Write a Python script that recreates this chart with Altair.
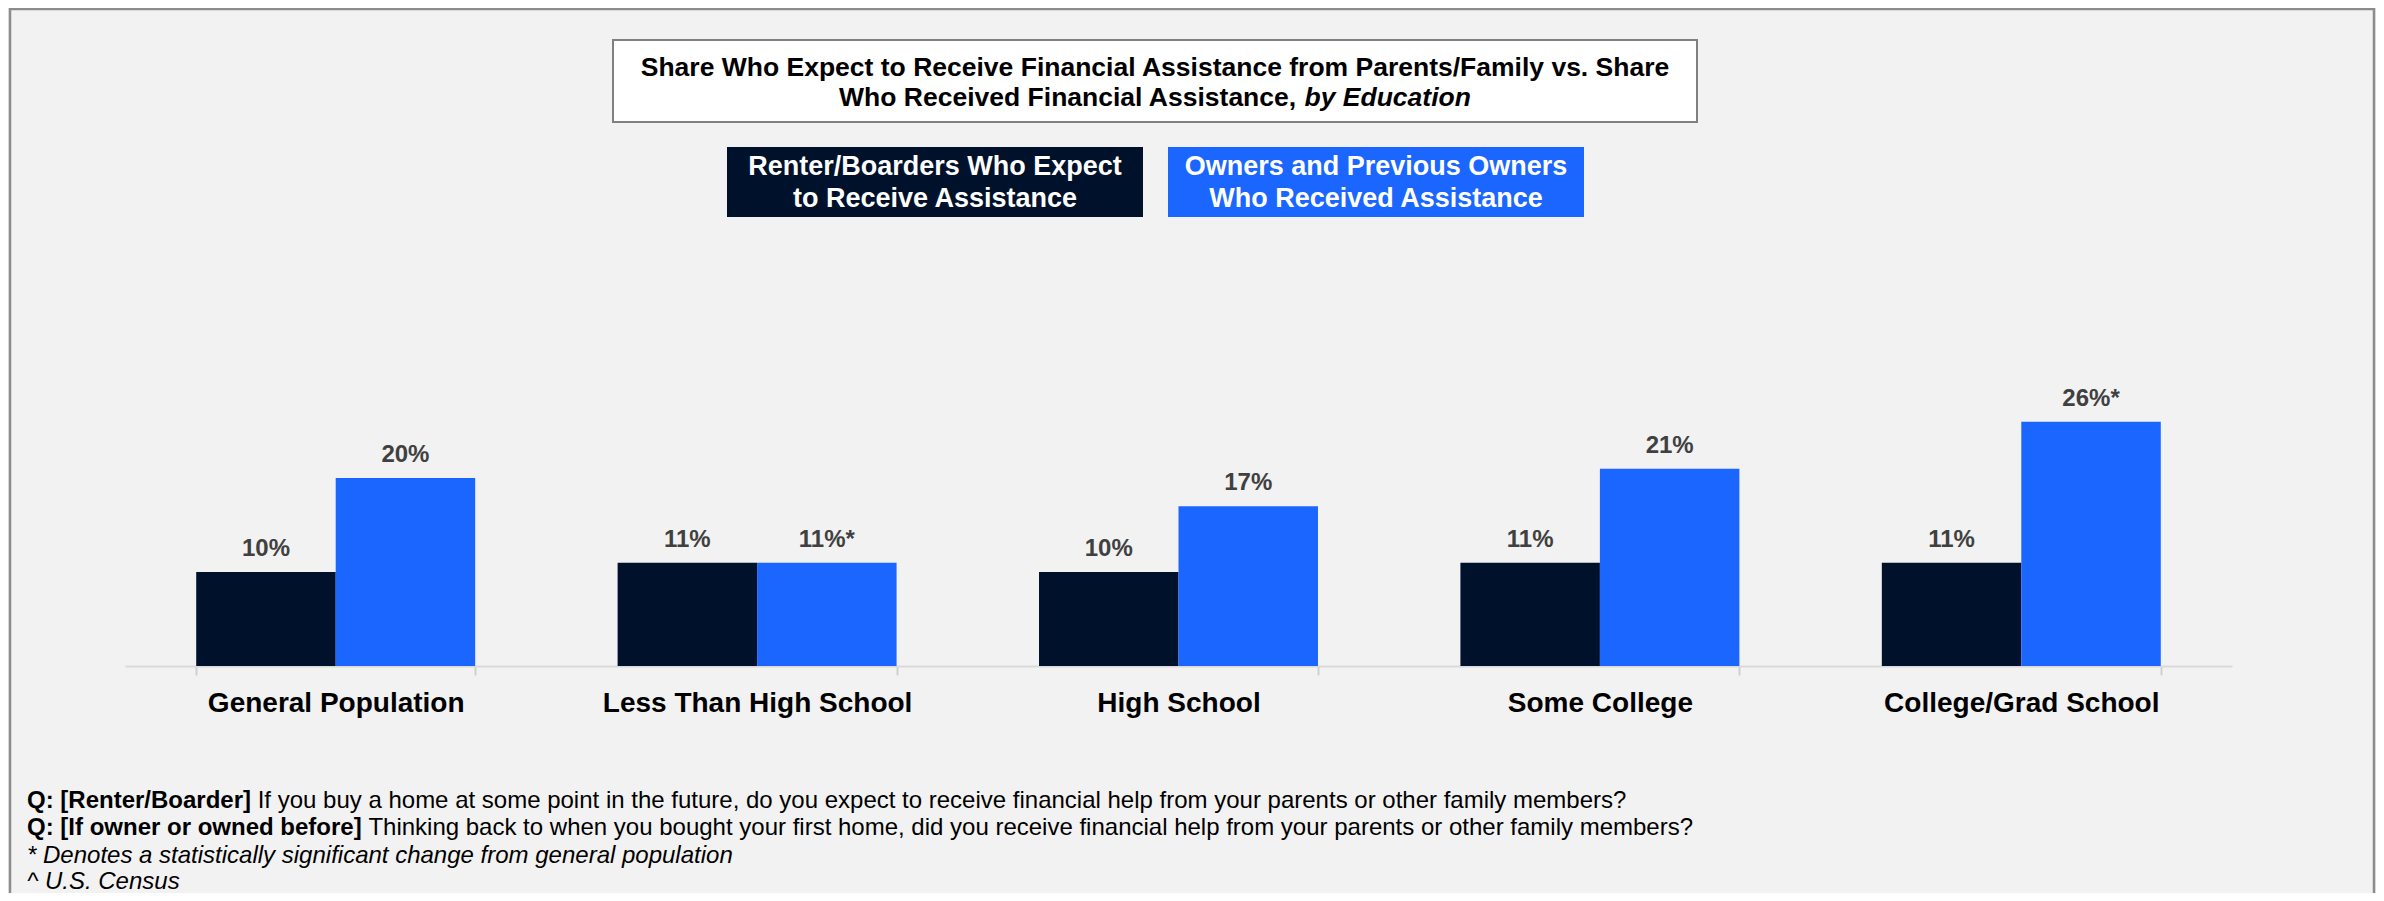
import altair as alt
import pandas as pd

# ---------------- data ----------------
categories = ["General Population", "Less Than High School", "High School",
              "Some College", "College/Grad School"]
series = ["Renter/Boarders Who Expect to Receive Assistance",
          "Owners and Previous Owners Who Received Assistance"]
renter_values = [10, 11, 10, 11, 11]
owner_values = [20, 11, 17, 21, 26]
renter_labels = ["10%", "11%", "10%", "11%", "11%"]
owner_labels = ["20%", "11%*", "17%", "21%", "26%*"]
series_colors = ["#00112B", "#1A66FF"]

title_line1 = "Share Who Expect to Receive Financial Assistance from Parents/Family vs. Share"
title_line2_plain = "Who Received Financial Assistance,"
title_line2_italic = "by Education"
legend_lines = [["Renter/Boarders Who Expect", "to Receive Assistance"],
                ["Owners and Previous Owners", "Who Received Assistance"]]
foot_bold = ["Q: [Renter/Boarder]", "Q: [If owner or owned before]"]
foot_plain = ["If you buy a home at some point in the future, do you expect to receive financial help from your parents or other family members?",
              "Thinking back to when you bought your first home, did you receive financial help from your parents or other family members?"]
foot_italic = ["* Denotes a statistically significant change from general population",
               "^ U.S. Census"]

FONT = "Liberation Sans"

# Arial / Liberation Sans bold advance widths (per 1000 em) for layout of mixed-style text
BOLD_W = {" ": 278, ",": 278, ".": 278, "/": 278, ":": 333, "[": 333, "]": 333,
          "A": 722, "B": 722, "E": 667, "F": 611, "I": 278, "Q": 778, "R": 722, "W": 944,
          "a": 556, "b": 611, "c": 556, "d": 611, "e": 556, "f": 333, "h": 611, "i": 278,
          "l": 278, "n": 611, "o": 611, "r": 389, "s": 556, "t": 333, "u": 611, "v": 556,
          "w": 778, "y": 556}


def bold_width(s, size):
    return sum(BOLD_W.get(ch, 556) for ch in s) * size / 1000.0


# ---------------- long table ----------------
rows = []
for i, c in enumerate(categories):
    rows.append({"category": c, "series": series[0], "value": renter_values[i], "label": renter_labels[i]})
    rows.append({"category": c, "series": series[1], "value": owner_values[i], "label": owner_labels[i]})
df = pd.DataFrame(rows)

W, H = 2107, 436
one = pd.DataFrame({"k": [0]})

x_enc = alt.X("category:N", sort=categories,
              scale=alt.Scale(paddingInner=0.338, paddingOuter=0.169),
              axis=alt.Axis(title=None, labelAngle=0, labelFont=FONT, labelFontSize=28,
                            labelFontWeight="bold", labelColor="#000000", labelLimit=1000,
                            labelBaseline="alphabetic", labelPadding=36,
                            tickBand="extent", tickSize=9, tickColor="#d0d0d0", tickWidth=2,
                            domainColor="#d9d9d9", domainWidth=2, grid=False))
xo_enc = alt.XOffset("series:N", sort=series, scale=alt.Scale(paddingInner=0, paddingOuter=0))
y_enc = alt.Y("value:Q", scale=alt.Scale(domain=[0, 46.4]), axis=None)
c_enc = alt.Color("series:N", scale=alt.Scale(domain=series, range=series_colors), legend=None)

bars = alt.Chart(df).mark_bar().encode(x=x_enc, xOffset=xo_enc, y=y_enc, color=c_enc)
labels = alt.Chart(df).mark_text(baseline="alphabetic", dy=-16, font=FONT, fontSize=24,
                                 fontWeight="bold", color="#404040").encode(
    x=x_enc, xOffset=xo_enc, y=y_enc, text="label:N")

layers = []

# outer frame
layers.append(alt.Chart(one).mark_rect(fillOpacity=0, stroke="#8c8c8c", strokeWidth=2.5).encode(
    x=alt.value(-115), x2=alt.value(2249), y=alt.value(-221), y2=alt.value(720)))

# title box
layers.append(alt.Chart(one).mark_rect(fill="#ffffff", stroke="#808080", strokeWidth=2).encode(
    x=alt.value(488), x2=alt.value(1572), y=alt.value(-190), y2=alt.value(-108)))
TS = 26.5
layers.append(alt.Chart(one).mark_text(font=FONT, fontSize=TS, fontWeight="bold", color="#000000",
                                       align="center", baseline="middle").encode(
    x=alt.value(1030), y=alt.value(-162), text=alt.value(title_line1)))
w_plain = bold_width(title_line2_plain, TS)
w_space = bold_width(" ", TS)
w_ital = bold_width(title_line2_italic, TS)
start = 1030 - (w_plain + w_space + w_ital) / 2
layers.append(alt.Chart(one).mark_text(font=FONT, fontSize=TS, fontWeight="bold", color="#000000",
                                       align="left", baseline="middle").encode(
    x=alt.value(start), y=alt.value(-132), text=alt.value(title_line2_plain)))
layers.append(alt.Chart(one).mark_text(font=FONT, fontSize=TS, fontWeight="bold", fontStyle="italic",
                                       color="#000000", align="left", baseline="middle").encode(
    x=alt.value(start + w_plain + w_space), y=alt.value(-132), text=alt.value(title_line2_italic)))

# legend boxes
box_x = [(602, 1018), (1043, 1459)]
for (x0, x1), lines, col in zip(box_x, legend_lines, series_colors):
    layers.append(alt.Chart(one).mark_rect(fill=col).encode(
        x=alt.value(x0), x2=alt.value(x1), y=alt.value(-83), y2=alt.value(-13)))
    for ly, txt in zip([-63, -31], lines):
        layers.append(alt.Chart(one).mark_text(font=FONT, fontSize=27, fontWeight="bold",
                                               color="#ffffff", align="center", baseline="middle").encode(
            x=alt.value((x0 + x1) / 2), y=alt.value(ly), text=alt.value(txt)))

# footnotes
FS = 24
foot_y = [578, 605, 633, 659]
fx = -98
for i in range(2):
    layers.append(alt.Chart(one).mark_text(font=FONT, fontSize=FS, fontWeight="bold", color="#000000",
                                           align="left", baseline="alphabetic").encode(
        x=alt.value(fx), y=alt.value(foot_y[i]), text=alt.value(foot_bold[i])))
    layers.append(alt.Chart(one).mark_text(font=FONT, fontSize=FS, color="#000000",
                                           align="left", baseline="alphabetic").encode(
        x=alt.value(fx + bold_width(foot_bold[i] + " ", FS)), y=alt.value(foot_y[i]),
        text=alt.value(foot_plain[i])))
for j in range(2):
    layers.append(alt.Chart(one).mark_text(font=FONT, fontSize=FS, fontStyle="italic", color="#000000",
                                           align="left", baseline="alphabetic").encode(
        x=alt.value(fx), y=alt.value(foot_y[2 + j]), text=alt.value(foot_italic[j])))

chart = alt.layer(bars, labels, *layers).properties(
    width=W, height=H,
    autosize=alt.AutoSizeParams(type="none"),
    padding={"left": 117, "top": 222, "right": 144, "bottom": 227},
    background="#f2f2f2",
).configure_view(stroke=None)

chart.save("out.html", embed_options={"renderer": "svg", "actions": False})
